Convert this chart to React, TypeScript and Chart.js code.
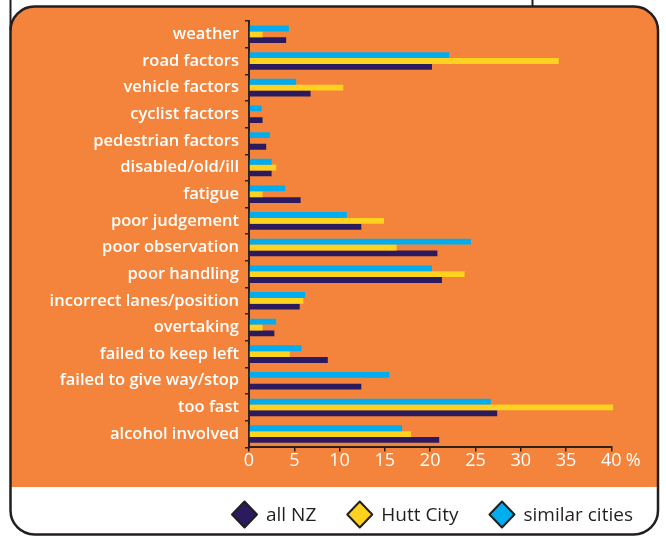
import React, { useEffect, useRef } from 'react';
import { Chart, registerables } from 'chart.js';

Chart.register(...registerables);

const categories = [
  'weather',
  'road factors',
  'vehicle factors',
  'cyclist factors',
  'pedestrian factors',
  'disabled/old/ill',
  'fatigue',
  'poor judgement',
  'poor observation',
  'poor handling',
  'incorrect lanes/position',
  'overtaking',
  'failed to keep left',
  'failed to give way/stop',
  'too fast',
  'alcohol involved',
];

const allNZ = [4.1, 20.2, 6.8, 1.5, 1.9, 2.5, 5.7, 12.4, 20.8, 21.3, 5.6, 2.8, 8.7, 12.4, 27.4, 21.0];
const huttCity = [1.5, 34.2, 10.4, 0, 0, 3.0, 1.5, 14.9, 16.3, 23.8, 6.0, 1.5, 4.5, 0, 40.2, 17.9];
const similarCities = [4.4, 22.1, 5.2, 1.4, 2.3, 2.5, 4.0, 10.8, 24.5, 20.2, 6.2, 3.0, 5.8, 15.5, 26.7, 16.9];

const xTicks = [0, 5, 10, 15, 20, 25, 30, 35, 40];
const legendOrder = ['all NZ', 'Hutt City', 'similar cities'];

const ORANGE = '#F4843B';
const NAVY = '#2B1A5E';
const YELLOW = '#FFD220';
const CYAN = '#00AEEF';
const DARK = '#231F20';
const AXIS = '#2B211D';
const FONT = "'Open Sans', sans-serif";

const framePlugin = {
  id: 'frame',
  beforeDraw(chart: any) {
    const ctx = chart.ctx as CanvasRenderingContext2D;
    const W = chart.width;
    const H = chart.height;
    ctx.save();
    ctx.fillStyle = '#ffffff';
    ctx.fillRect(0, 0, W, H);
    const x0 = 10.5, y0 = 6.5, x1 = 658, y1 = 534.5, r = 24;
    const path = () => {
      ctx.beginPath();
      ctx.moveTo(x0 + r, y0);
      ctx.lineTo(x1 - r, y0);
      ctx.arcTo(x1, y0, x1, y0 + r, r);
      ctx.lineTo(x1, y1 - r);
      ctx.arcTo(x1, y1, x1 - r, y1, r);
      ctx.lineTo(x0 + r, y1);
      ctx.arcTo(x0, y1, x0, y1 - r, r);
      ctx.lineTo(x0, y0 + r);
      ctx.arcTo(x0, y0, x0 + r, y0, r);
      ctx.closePath();
    };
    path();
    ctx.save();
    ctx.clip();
    ctx.fillStyle = ORANGE;
    ctx.fillRect(0, 0, W, 487);
    ctx.restore();
    path();
    ctx.lineWidth = 2.5;
    ctx.strokeStyle = DARK;
    ctx.stroke();
    ctx.lineWidth = 2;
    ctx.beginPath();
    ctx.moveTo(10.5, 0);
    ctx.lineTo(10.5, 30);
    ctx.moveTo(532.5, 0);
    ctx.lineTo(532.5, 7);
    ctx.stroke();
    ctx.restore();
  },
};

const extrasPlugin = {
  id: 'extras',
  afterDraw(chart: any) {
    const ctx = chart.ctx as CanvasRenderingContext2D;
    ctx.save();
    // percent sign next to the last x tick
    const xs = chart.scales.x;
    ctx.font = `18px ${FONT}`;
    ctx.fillStyle = '#ffffff';
    ctx.textAlign = 'center';
    ctx.textBaseline = 'middle';
    ctx.fillText('%', xs.getPixelForValue(40) + 22, 461);

    // diamond legend
    ctx.font = `19px ${FONT}`;
    ctx.textAlign = 'left';
    let x = 232;
    const cy = 514.5;
    legendOrder.forEach((label) => {
      const ds = chart.data.datasets.find((d: any) => d.label === label);
      const w = 25, h = 26;
      ctx.beginPath();
      ctx.moveTo(x, cy);
      ctx.lineTo(x + w / 2, cy - h / 2);
      ctx.lineTo(x + w, cy);
      ctx.lineTo(x + w / 2, cy + h / 2);
      ctx.closePath();
      ctx.fillStyle = ds.backgroundColor;
      ctx.fill();
      ctx.lineWidth = 2;
      ctx.lineJoin = 'round';
      ctx.strokeStyle = DARK;
      ctx.stroke();
      const tx = x + w + 9;
      ctx.fillStyle = DARK;
      ctx.fillText(label, tx, cy + 1);
      x = tx + ctx.measureText(label).width + 31;
    });
    ctx.restore();
  },
};

export default function App() {
  const canvasRef = useRef<HTMLCanvasElement | null>(null);

  useEffect(() => {
    if (!canvasRef.current) return;
    Chart.defaults.font.family = FONT;
    const chart = new Chart(canvasRef.current, {
      type: 'bar',
      data: {
        labels: categories,
        datasets: [
          { label: 'similar cities', data: similarCities, backgroundColor: CYAN, borderWidth: 0 },
          { label: 'Hutt City', data: huttCity, backgroundColor: YELLOW, borderWidth: 0, clip: false as any },
          { label: 'all NZ', data: allNZ, backgroundColor: NAVY, borderWidth: 0 },
        ],
      },
      options: {
        indexAxis: 'y',
        responsive: false,
        animation: false,
        events: [],
        layout: { padding: { left: 10, right: 54.7, top: 21, bottom: 48.6 } },
        datasets: { bar: { categoryPercentage: 0.66, barPercentage: 1 } } as any,
        plugins: {
          legend: { display: false },
          tooltip: { enabled: false },
        },
        scales: {
          x: {
            min: 0,
            max: 40,
            afterBuildTicks: (s: any) => {
              s.ticks = xTicks.map((v) => ({ value: v }));
            },
            ticks: {
              color: '#ffffff',
              font: { size: 18, lineHeight: 1 },
              padding: 0,
              maxRotation: 0,
              callback: (v: any) => String(v),
            },
            grid: { drawOnChartArea: false, drawTicks: true, tickLength: 4, color: AXIS, lineWidth: 1.5 },
            border: { color: AXIS, width: 2 },
            afterFit: (s: any) => {
              s.height = 40;
            },
          } as any,
          y: {
            ticks: { color: '#ffffff', font: { size: 16.5, weight: '600' }, padding: 6, autoSkip: false },
            grid: { drawOnChartArea: false, drawTicks: true, tickLength: 4, color: AXIS, lineWidth: 1.5 },
            border: { color: AXIS, width: 2 },
            afterFit: (s: any) => {
              s.width = 239;
            },
          } as any,
        },
      },
      plugins: [framePlugin, extrasPlugin],
    });
    return () => chart.destroy();
  }, []);

  return (
    <div style={{ position: 'absolute', left: 0, top: 0, width: 666, height: 536 }}>
      <canvas ref={canvasRef} width={666} height={536} style={{ display: 'block', width: 666, height: 536 }} />
    </div>
  );
}
